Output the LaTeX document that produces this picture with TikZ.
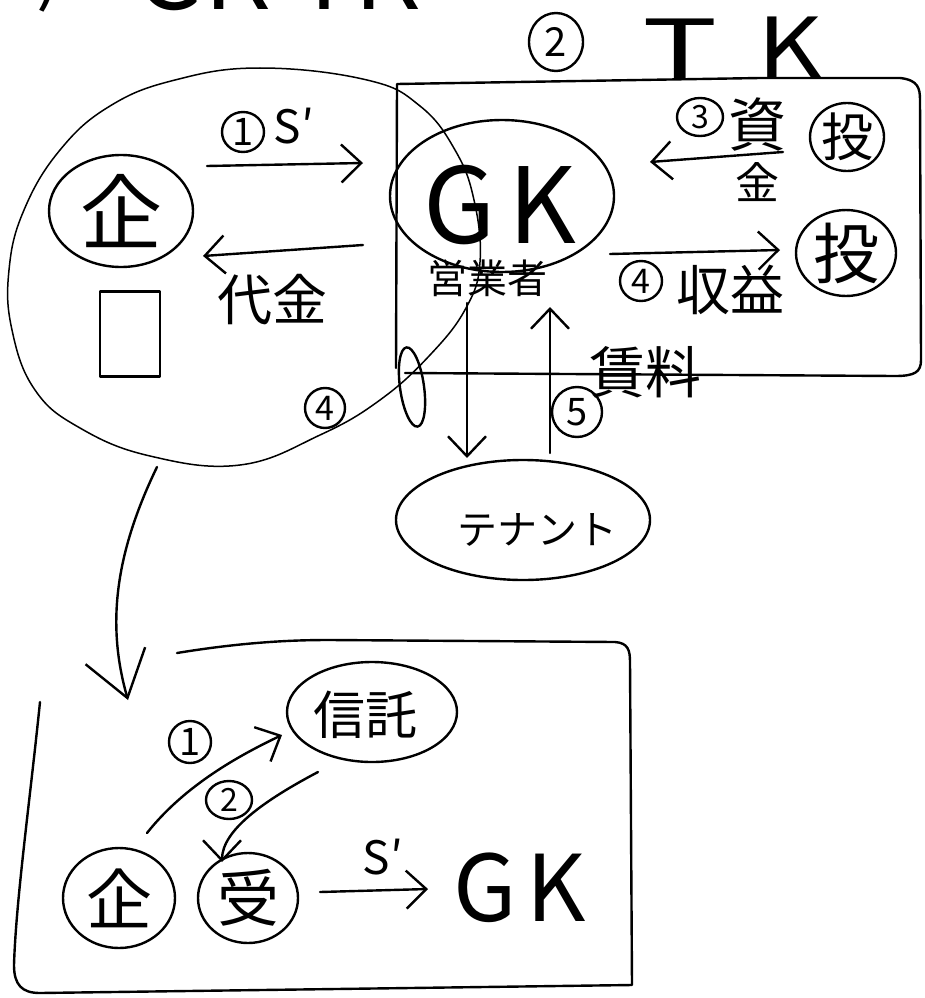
\documentclass[tikz,border=0pt]{standalone}
\usepackage{fontspec}
\setmainfont{Noto Sans CJK JP}
\usetikzlibrary{arrows.meta,shapes.geometric}
\newcommand\myfs[1]{\fontsize{#1}{#1}\selectfont}
\begin{document}
\begin{tikzpicture}[x=1pt,y=-1pt,
  ln/.style={line width=2.4pt,line cap=round,line join=round},
  thinln/.style={line width=1.5pt,line cap=round,line join=round},
  arr/.style={ln,-{Straight Barb[length=20pt,width=38pt]}},
  bigarr/.style={ln,-{Straight Barb[length=44pt,width=62pt]}},
  oval/.style={draw,ln,ellipse,inner sep=0pt},
  circnum/.style={oval,font=\myfs{38}},
  txt/.style={inner sep=0pt}]
\useasboundingbox[fill=white] (0,0) rectangle (924,998);

% cut-off heading
\node[txt,anchor=base east,font=\myfs{75}] (topa) at (62,-2) {ア)};
\node[txt,anchor=base west,font=\myfs{100}] (topgk) at (135,10) {GK-TK};

% big left blob
\draw[thinln] plot[smooth cycle, tension=0.7] coordinates {(260,68) (367,80) (420,106) (455,150) (474,200) (480,262) (466,308) (430,355) (380,400) (320,435) (240,465) (150,456) (80,428) (35,390) (12,330) (9,270) (24,210) (60,150) (110,106) (175,80)};

% TK box
\draw[ln] (396,368) -- (397,84) -- (760,78) -- (900,78) .. controls (918,80) and (920,88) .. (920,100) -- (921,360) .. controls (921,372) and (915,376) .. (895,376) -- (405,373);
\node[draw,ln,ellipse,minimum width=24pt,minimum height=80pt,inner sep=0pt,rotate=8] (loop) at (412,387) {};
\node[circnum,minimum width=40pt,minimum height=40pt,font=\myfs{34}] (c4a) at (325,408) {4};

% heading 2 TK
\node[circnum,minimum width=54pt,minimum height=58pt,font=\myfs{40}] (c2top) at (556,42) {2};
\node[txt,font=\myfs{84},xscale=1.5] (tkt) at (680,50) {T};
\node[txt,font=\myfs{84},xscale=1.2] (tkk) at (790,48) {K};

% left part
\node[oval,minimum width=144pt,minimum height=112pt,font=\myfs{82}] (ki1) at (121,211) {企};
\node[draw,ln,minimum width=60pt,minimum height=85pt,inner sep=0pt] (rect) at (130,334) {};
\node[circnum,minimum width=42pt,minimum height=40pt] (c1a) at (243,132) {1};
\node[txt,font=\myfs{46}] (s1) at (294,126) {S′};
\coordinate (a1s) at (207,166); \coordinate (a1e) at (363,163);
\draw[arr] (a1s) -- (a1e);
\coordinate (a2s) at (363,245); \coordinate (a2e) at (203,256);
\draw[arr] (a2s) -- (a2e);
\node[txt,font=\myfs{55}] (daikin) at (272,300) {代金};

% GK
\node[oval,minimum width=224pt,minimum height=152pt] (gkc) at (502,196) {};
\node[txt,font=\myfs{105}] (gk) at (500,205) {G\hspace{12pt}K};
\node[txt,font=\myfs{40}] (eig) at (487,278) {営業者};

% investors
\node[oval,minimum width=74pt,minimum height=68pt,font=\myfs{52}] (inv1) at (847,137) {投};
\node[oval,minimum width=100pt,minimum height=84pt,font=\myfs{66}] (inv2) at (846,253) {投};
\node[circnum,minimum width=46pt,minimum height=38pt,font=\myfs{32}] (c3) at (700,117) {3};
\node[txt,font=\myfs{58}] (shi) at (757,125) {資};
\node[txt,font=\myfs{44}] (kin) at (757,182) {金};
\coordinate (a3s) at (783,152); \coordinate (a3e) at (650,162);
\draw[arr] (a3s) -- (a3e);
\coordinate (a4s) at (610,254); \coordinate (a4e) at (780,250);
\draw[arr] (a4s) -- (a4e);
\node[circnum,minimum width=42pt,minimum height=40pt,font=\myfs{34}] (c4b) at (641,281) {4};
\node[txt,font=\myfs{54}] (shueki) at (730,290) {収益};

% tenant
\coordinate (d1s) at (467,303); \coordinate (d1e) at (467,458);
\draw[arr] (d1s) -- (d1e);
\coordinate (u1s) at (550,453); \coordinate (u1e) at (550,307);
\draw[arr] (u1s) -- (u1e);
\node[circnum,minimum width=50pt,minimum height=50pt,font=\myfs{38}] (c5) at (577,412) {5};
\node[txt,font=\myfs{56}] (rent) at (645,372) {賃料};
\node[oval,minimum width=254pt,minimum height=120pt] (tenant) at (523,520) {};
\node[txt,font=\myfs{40}] (tenantt) at (537,530) {テナント};

% arrow to lower box
\coordinate (bs) at (157,467); \coordinate (be) at (128,700);
\draw[bigarr] (bs) .. controls (112,560) and (108,630) .. (be);

% lower box
\draw[ln] (177,653) .. controls (250,641) and (300,640) .. (330,640) -- (615,642) .. controls (628,643) and (630,650) .. (630,662) -- (632,985) -- (40,993) .. controls (22,993) and (14,985) .. (14,965) .. controls (16,900) and (30,800) .. (40,702);

\node[oval,minimum width=170pt,minimum height=100pt] (trustc) at (372,712) {};
\node[txt,font=\myfs{52}] (trust) at (365,715) {信託};
\node[circnum,minimum width=42pt,minimum height=42pt] (c1b) at (190,742) {1};
\node[circnum,minimum width=46pt,minimum height=38pt,font=\myfs{32}] (c2b) at (229,800) {2};
\node[oval,minimum width=112pt,minimum height=100pt,font=\myfs{66}] (ki2) at (119,898) {企};
\node[oval,minimum width=100pt,minimum height=90pt,font=\myfs{62}] (uke) at (248,898) {受};
\coordinate (b1s) at (147,833); \coordinate (b1e) at (282,735);
\draw[arr] (b1s) .. controls (185,785) and (240,755) .. (b1e);
\coordinate (b2s) at (318,772); \coordinate (b2e) at (222,862);
\draw[arr] (b2s) .. controls (265,800) and (222,830) .. (b2e);
\coordinate (b3s) at (320,892); \coordinate (b3e) at (428,889);
\draw[arr] (b3s) -- (b3e);
\node[txt,font=\myfs{46}] (s2) at (383,857) {S′};
\node[txt,font=\myfs{92}] (gk2) at (520,888) {G\hspace{10pt}K};
\end{tikzpicture}
\end{document}
